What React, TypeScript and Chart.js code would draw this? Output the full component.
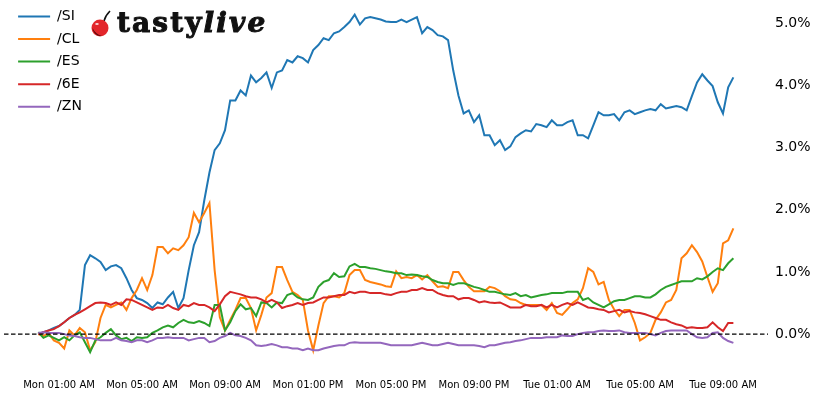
import React, { useEffect, useRef } from "react";
import { Chart, registerables } from "chart.js";

Chart.register(...registerables);

// 15-minute samples starting Monday 00:00 (hours since Mon 00:00)
const stepHours = 0.25;

const tickHours = [1, 5, 9, 13, 17, 21, 25, 29, 33];
const tickLabels = [
  "Mon 01:00 AM", "Mon 05:00 AM", "Mon 09:00 AM", "Mon 01:00 PM", "Mon 05:00 PM",
  "Mon 09:00 PM", "Tue 01:00 AM", "Tue 05:00 AM", "Tue 09:00 AM",
];
const yTicks = [0, 1, 2, 3, 4, 5];

const seriesNames = ["/SI", "/CL", "/ES", "/6E", "/ZN"];
const seriesColors = ["#1f77b4", "#ff7f0e", "#2ca02c", "#d62728", "#9467bd"];

// % change values
const siValues = [
  0.00, 0.03, 0.06, 0.10, 0.13, 0.19, 0.26, 0.31, 0.39, 1.11, 1.27, 1.22,
  1.16, 1.03, 1.09, 1.11, 1.06, 0.90, 0.71, 0.58, 0.55, 0.50, 0.42, 0.51,
  0.48, 0.59, 0.68, 0.42, 0.58, 1.03, 1.43, 1.64, 2.15, 2.60, 2.96, 3.07,
  3.28, 3.76, 3.76, 3.92, 3.84, 4.16, 4.05, 4.12, 4.21, 3.96, 4.21, 4.24,
  4.41, 4.37, 4.47, 4.44, 4.37, 4.57, 4.65, 4.76, 4.73, 4.84, 4.87, 4.94,
  5.02, 5.14, 4.98, 5.08, 5.10, 5.08, 5.06, 5.03, 5.02, 5.02, 5.06, 5.02,
  5.06, 5.10, 4.84, 4.94, 4.89, 4.81, 4.79, 4.73, 4.24, 3.84, 3.55, 3.60,
  3.41, 3.52, 3.20, 3.20, 3.04, 3.12, 2.96, 3.02, 3.17, 3.23, 3.28, 3.26,
  3.38, 3.36, 3.33, 3.44, 3.36, 3.36, 3.41, 3.44, 3.20, 3.20, 3.15, 3.36,
  3.57, 3.52, 3.52, 3.54, 3.44, 3.57, 3.60, 3.54, 3.57, 3.60, 3.62, 3.60,
  3.70, 3.63, 3.65, 3.67, 3.65, 3.60, 3.83, 4.05, 4.18, 4.08, 3.99, 3.73,
  3.55, 3.97, 4.13,
];
const clValues = [
  0.00, -0.03, 0.02, -0.10, -0.14, -0.23, 0.06, -0.02, 0.10, 0.03, -0.26, -0.13,
  0.26, 0.47, 0.43, 0.47, 0.51, 0.39, 0.58, 0.71, 0.90, 0.71, 0.95, 1.40,
  1.40, 1.30, 1.38, 1.35, 1.43, 1.56, 1.95, 1.80, 1.95, 2.11, 1.03, 0.27,
  0.06, 0.23, 0.39, 0.58, 0.58, 0.42, 0.06, 0.31, 0.59, 0.66, 1.08, 1.08,
  0.87, 0.68, 0.63, 0.55, 0.06, -0.26, 0.14, 0.50, 0.61, 0.61, 0.59, 0.66,
  0.95, 1.03, 1.03, 0.87, 0.84, 0.82, 0.80, 0.77, 0.76, 1.01, 0.90, 0.92,
  0.90, 0.95, 0.88, 0.95, 0.85, 0.76, 0.77, 0.74, 1.00, 1.00, 0.87, 0.76,
  0.69, 0.69, 0.69, 0.76, 0.74, 0.69, 0.61, 0.56, 0.55, 0.50, 0.47, 0.47,
  0.47, 0.47, 0.39, 0.50, 0.34, 0.31, 0.40, 0.50, 0.56, 0.74, 1.06, 1.00,
  0.80, 0.84, 0.55, 0.40, 0.29, 0.39, 0.39, 0.18, -0.10, -0.05, 0.02, 0.23,
  0.35, 0.51, 0.55, 0.71, 1.22, 1.30, 1.43, 1.32, 1.17, 0.92, 0.68, 0.82,
  1.46, 1.51, 1.70,
];
const esValues = [
  0.03, -0.06, -0.02, -0.06, -0.10, -0.05, -0.10, -0.02, 0.03, -0.13, -0.29, -0.10,
  -0.05, 0.02, 0.08, -0.02, -0.08, -0.06, -0.11, -0.05, -0.06, -0.05, 0.02, 0.06,
  0.11, 0.14, 0.11, 0.18, 0.23, 0.19, 0.18, 0.21, 0.18, 0.13, 0.47, 0.47,
  0.06, 0.19, 0.37, 0.48, 0.40, 0.42, 0.29, 0.51, 0.50, 0.43, 0.51, 0.50,
  0.63, 0.66, 0.59, 0.56, 0.55, 0.59, 0.76, 0.84, 0.87, 0.98, 0.92, 0.93,
  1.09, 1.13, 1.08, 1.08, 1.06, 1.05, 1.03, 1.01, 1.00, 0.98, 0.98, 0.95,
  0.96, 0.95, 0.93, 0.92, 0.87, 0.84, 0.82, 0.82, 0.79, 0.82, 0.82, 0.79,
  0.76, 0.74, 0.71, 0.68, 0.68, 0.66, 0.64, 0.63, 0.66, 0.61, 0.63, 0.59,
  0.61, 0.63, 0.64, 0.66, 0.66, 0.66, 0.68, 0.68, 0.68, 0.55, 0.58, 0.51,
  0.47, 0.43, 0.48, 0.53, 0.55, 0.55, 0.58, 0.61, 0.61, 0.59, 0.59, 0.64,
  0.71, 0.76, 0.79, 0.82, 0.85, 0.85, 0.85, 0.90, 0.88, 0.93, 1.00, 1.06,
  1.03, 1.14, 1.22,
];
const eurValues = [
  0.00, 0.03, 0.06, 0.08, 0.13, 0.19, 0.26, 0.31, 0.35, 0.40, 0.45, 0.50,
  0.51, 0.50, 0.47, 0.51, 0.47, 0.56, 0.55, 0.51, 0.47, 0.43, 0.39, 0.43,
  0.42, 0.47, 0.42, 0.39, 0.47, 0.45, 0.50, 0.47, 0.47, 0.43, 0.37, 0.48,
  0.61, 0.68, 0.66, 0.64, 0.61, 0.59, 0.59, 0.56, 0.51, 0.55, 0.51, 0.42,
  0.45, 0.47, 0.50, 0.47, 0.50, 0.51, 0.55, 0.59, 0.59, 0.61, 0.63, 0.63,
  0.68, 0.66, 0.68, 0.68, 0.66, 0.66, 0.66, 0.64, 0.63, 0.66, 0.68, 0.68,
  0.71, 0.71, 0.74, 0.71, 0.71, 0.66, 0.63, 0.61, 0.61, 0.56, 0.58, 0.58,
  0.55, 0.51, 0.53, 0.51, 0.50, 0.51, 0.47, 0.43, 0.43, 0.43, 0.47, 0.45,
  0.45, 0.47, 0.43, 0.47, 0.43, 0.47, 0.50, 0.47, 0.51, 0.47, 0.43, 0.42,
  0.40, 0.39, 0.35, 0.37, 0.39, 0.35, 0.37, 0.35, 0.34, 0.32, 0.29, 0.26,
  0.23, 0.23, 0.19, 0.16, 0.14, 0.10, 0.11, 0.10, 0.10, 0.11, 0.19, 0.11,
  0.05, 0.18, 0.18,
];
const znValues = [
  0.02, 0.03, 0.02, 0.02, 0.02, 0.00, -0.02, -0.03, -0.05, -0.06, -0.06, -0.08,
  -0.10, -0.10, -0.10, -0.06, -0.10, -0.11, -0.13, -0.10, -0.10, -0.13, -0.10, -0.06,
  -0.06, -0.05, -0.06, -0.06, -0.06, -0.10, -0.08, -0.06, -0.06, -0.13, -0.11, -0.06,
  -0.03, 0.02, -0.02, -0.03, -0.06, -0.10, -0.18, -0.19, -0.18, -0.16, -0.18, -0.21,
  -0.21, -0.23, -0.23, -0.26, -0.23, -0.26, -0.26, -0.23, -0.21, -0.19, -0.18, -0.18,
  -0.14, -0.13, -0.14, -0.14, -0.14, -0.14, -0.14, -0.16, -0.18, -0.18, -0.18, -0.18,
  -0.18, -0.16, -0.14, -0.16, -0.18, -0.18, -0.16, -0.14, -0.16, -0.18, -0.18, -0.18,
  -0.18, -0.19, -0.21, -0.18, -0.18, -0.16, -0.14, -0.13, -0.11, -0.10, -0.08, -0.06,
  -0.06, -0.06, -0.05, -0.05, -0.05, -0.02, -0.03, -0.03, 0.00, 0.02, 0.03, 0.03,
  0.05, 0.06, 0.05, 0.05, 0.06, 0.03, 0.02, 0.02, 0.02, 0.02, 0.00, -0.02,
  0.02, 0.05, 0.06, 0.06, 0.06, 0.06, 0.00, -0.05, -0.06, -0.05, 0.02, 0.03,
  -0.06, -0.11, -0.14,
];

const seriesValues = [siValues, clValues, esValues, eurValues, znValues];

const xMin = -1.651;
const xMax = 35.169;
const yMin = -0.625;
const yMax = 5.375;

const legendShift = {
  id: "legendShift",
  afterLayout(chart: any) {
    const lg = chart.legend;
    if (lg) {
      lg.left += 5.5;
      lg.right += 5.5;
      lg.top += 0.8;
      lg.bottom += 0.8;
    }
  },
};

export default function App() {
  const ref = useRef<HTMLCanvasElement>(null);

  useEffect(() => {
    const canvas = ref.current;
    if (!canvas) return;
    const times = siValues.map((_, i) => i * stepHours);
    const datasets: any[] = seriesValues.map((vals, k) => ({
      label: seriesNames[k],
      data: vals.map((v, i) => ({ x: times[i], y: v })),
      borderColor: seriesColors[k],
      backgroundColor: seriesColors[k],
      borderWidth: 2,
      pointRadius: 0,
      tension: 0,
      order: 5 - k,
    }));
    datasets.push({
      label: "zero",
      data: [
        { x: xMin, y: 0 },
        { x: xMax, y: 0 },
      ],
      borderColor: "#000000",
      borderWidth: 1.3,
      borderDash: [4.5, 2.5],
      pointRadius: 0,
      order: 0,
    });

    const chart = new Chart(canvas, {
      type: "line",
      data: { datasets },
      options: {
        responsive: false,
        animation: false,
        devicePixelRatio: 1,
        layout: { padding: { left: 4, top: 0, right: 0, bottom: 0 } },
        scales: {
          x: {
            type: "linear",
            min: xMin,
            max: xMax,
            grid: { display: false, drawTicks: false },
            border: { display: false },
            afterBuildTicks: (s: any) => {
              s.ticks = tickHours.map((v) => ({ value: v }));
            },
            afterFit: (s: any) => {
              s.height = 24;
              s.paddingLeft = 0;
              s.paddingRight = 0;
            },
            ticks: {
              autoSkip: false,
              maxRotation: 0,
              padding: 6.5,
              color: "#000000",
              font: { family: "DejaVu Sans", size: 10 },
              callback: (v: any) => {
                const i = tickHours.indexOf(Number(v));
                return i >= 0 ? tickLabels[i] : "";
              },
            },
          },
          y: {
            position: "right",
            min: yMin,
            max: yMax,
            grid: { display: false, drawTicks: false },
            border: { display: false },
            afterBuildTicks: (s: any) => {
              s.ticks = yTicks.map((v) => ({ value: v }));
            },
            afterFit: (s: any) => {
              s.width = 49;
              s.paddingTop = 0;
              s.paddingBottom = 0;
            },
            ticks: {
              padding: 7,
              color: "#000000",
              font: { family: "DejaVu Sans", size: 14 },
              callback: (v: any) => Number(v).toFixed(1) + "%",
            },
          },
        },
        plugins: {
          tooltip: { enabled: false },
          legend: {
            position: "chartArea",
            align: "start",
            labels: {
              usePointStyle: true,
              pointStyle: "line",
              pointStyleWidth: 32,
              padding: 8.6,
              color: "#000000",
              font: { family: "DejaVu Sans", size: 14 },
              filter: (item: any) => item.text !== "zero",
              sort: (a: any, b: any) => a.datasetIndex - b.datasetIndex,
            },
          },
        },
      },
      plugins: [legendShift],
    } as any);

    return () => chart.destroy();
  }, []);

  return (
    <div style={{ position: "absolute", left: 0, top: 0, width: 817, height: 397, background: "#ffffff" }}>
      <canvas ref={ref} width={817} height={397} style={{ display: "block", width: 817, height: 397 }} />
      <svg
        width={26}
        height={30}
        viewBox="0 0 26 30"
        style={{ position: "absolute", left: 88, top: 8 }}
      >
        <path d="M16 13 C17 9 19 6 22 3" stroke="#111" strokeWidth={1.6} fill="none" />
        <circle cx={12} cy={20} r={8.5} fill="#e3262b" />
        <path d="M4.5 20 C5 25 9 28.5 14 28 C10 27 6.5 24.5 4.5 20 Z" fill="#5a0a0c" />
        <ellipse cx={9} cy={16} rx={1.8} ry={1.1} fill="#ffffff" opacity={0.8} />
      </svg>
      <div
        style={{
          position: "absolute",
          left: 117,
          top: 9,
          fontFamily: "'DejaVu Serif', serif",
          fontWeight: 900,
          fontSize: 28,
          lineHeight: "28px",
          color: "#111111",
          letterSpacing: "2.1px",
          WebkitTextStroke: "1px #111111",
          whiteSpace: "nowrap",
        }}
      >
        tasty<span style={{ fontStyle: "italic" }}>live</span>
      </div>
    </div>
  );
}
